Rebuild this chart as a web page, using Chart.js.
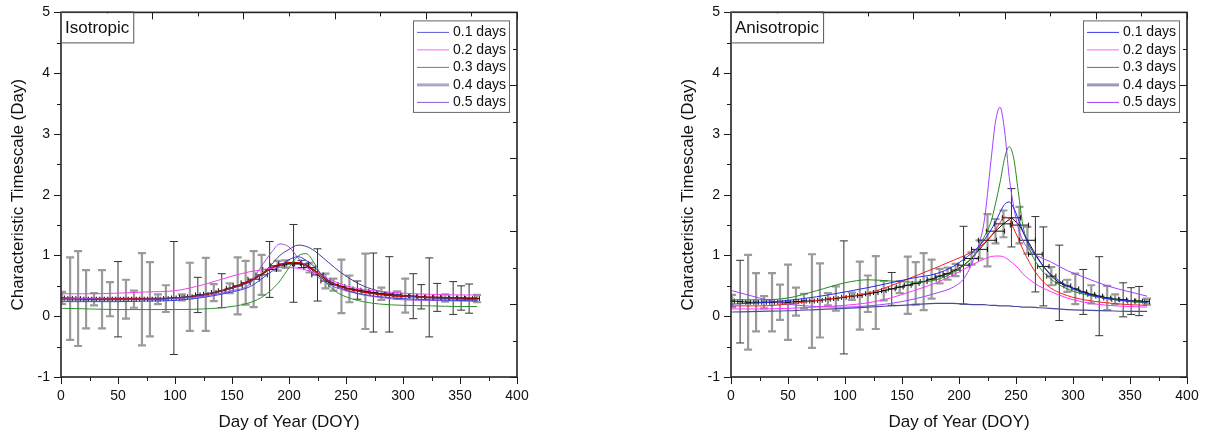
<!DOCTYPE html>
<html>
<head>
<meta charset="utf-8">
<script src="https://cdn.jsdelivr.net/npm/chart.js@4.4.1/dist/chart.umd.min.js"></script>
<style>
  html, body { margin: 0; padding: 0; background: #fff; }
  body { width: 1209px; height: 437px; position: relative; overflow: hidden; }
  .panel { position: absolute; top: 0; height: 437px; }
  #iso-wrap { left: 0; width: 540px; }
  #aniso-wrap { left: 670px; width: 539px; }
</style>
</head>
<body>
<div class="panel" id="iso-wrap"><canvas id="iso-chart" width="540" height="437"></canvas></div>
<div class="panel" id="aniso-wrap"><canvas id="aniso-chart" width="539" height="437"></canvas></div>
<script>
// weekly observations (day of year)
const weekDoy = [1, 8, 15, 22, 29, 36, 43, 50, 57, 64, 71, 78, 85, 92, 99, 106, 113, 120, 127, 134,
    141, 148, 155, 162, 169, 176, 183, 190, 197, 204, 211, 218, 225, 232, 239, 246, 253, 260, 267, 274,
    281, 288, 295, 302, 309, 316, 323, 330, 337, 344, 351, 358, 365];

const seriesLabels = ['0.1 days', '0.2 days', '0.3 days', '0.4 days', '0.5 days'];

// Isotropic panel
const isoMean = [0.30, 0.29, 0.29, 0.28, 0.28, 0.28, 0.28, 0.28, 0.28, 0.28, 0.28, 0.28, 0.28, 0.29, 0.30, 0.31, 0.32, 0.35, 0.36, 0.39,
    0.42, 0.46, 0.50, 0.55, 0.61, 0.68, 0.77, 0.83, 0.86, 0.87, 0.86, 0.80, 0.68, 0.58, 0.52, 0.49, 0.45, 0.43, 0.41, 0.39,
    0.37, 0.36, 0.35, 0.34, 0.33, 0.32, 0.31, 0.31, 0.30, 0.30, 0.30, 0.29, 0.29];
const isoErr = [0.10, 0.68, 0.78, 0.48, 0.10, 0.48, 0.28, 0.62, 0.32, 0.14, 0.76, 0.61, 0.08, 0.22, 0.93, 0.05, 0.56, 0.29, 0.60, 0.14,
    0.28, 0.08, 0.47, 0.36, 0.46, 0.33, 0.46, 0.08, 0.06, 0.64, 0.06, 0.08, 0.43, 0.12, 0.10, 0.44, 0.22, 0.15, 0.62, 0.65,
    0.10, 0.62, 0.06, 0.28, 0.37, 0.20, 0.65, 0.23, 0.06, 0.27, 0.20, 0.24, 0.06];
const isoXErr = [2, 2, 2, 2, 2, 2, 2, 2, 2, 2, 2, 2, 2, 2, 2, 2, 2, 2, 2, 2,
    3, 3, 4, 4, 5, 5, 6, 6, 6, 6, 6, 5, 5, 4, 4, 3, 3, 3, 3, 3,
    3, 3, 3, 3, 3, 3, 3, 3, 3, 3, 3, 3, 2];
const isoSetBDoy = [50, 99, 120, 141, 183, 204, 211, 225, 260, 274, 288, 309, 316, 323, 330, 344, 351, 358];

const isoCurveDoy = [1, 25, 50, 75, 100, 125, 150, 165, 175, 185, 192, 200, 208, 215, 222, 230, 240, 250, 265, 280, 300, 325, 350, 365];
const iso01 = [0.24, 0.24, 0.24, 0.25, 0.26, 0.31, 0.40, 0.48, 0.60, 0.74, 0.83, 0.93, 0.98, 0.92, 0.82, 0.66, 0.52, 0.43, 0.36, 0.32, 0.29, 0.27, 0.26, 0.25];
const iso02 = [0.37, 0.37, 0.38, 0.40, 0.42, 0.52, 0.66, 0.73, 0.76, 0.79, 0.80, 0.80, 0.79, 0.76, 0.72, 0.66, 0.57, 0.50, 0.44, 0.41, 0.38, 0.36, 0.35, 0.35];
const iso03 = [0.13, 0.12, 0.11, 0.11, 0.11, 0.12, 0.16, 0.22, 0.30, 0.44, 0.58, 0.80, 0.99, 1.03, 0.88, 0.62, 0.42, 0.32, 0.24, 0.20, 0.18, 0.17, 0.16, 0.16];
const iso04 = [0.27, 0.27, 0.27, 0.28, 0.30, 0.36, 0.46, 0.56, 0.68, 0.86, 1.00, 1.10, 1.17, 1.15, 1.08, 0.96, 0.80, 0.66, 0.50, 0.41, 0.34, 0.30, 0.28, 0.27];
const iso05 = [0.30, 0.29, 0.28, 0.28, 0.29, 0.33, 0.42, 0.52, 0.80, 1.06, 1.19, 1.14, 0.96, 0.82, 0.70, 0.58, 0.48, 0.42, 0.35, 0.31, 0.27, 0.26, 0.25, 0.25];
const isoFit = [0.30, 0.29, 0.29, 0.29, 0.30, 0.35, 0.47, 0.58, 0.68, 0.80, 0.85, 0.88, 0.88, 0.84, 0.76, 0.64, 0.53, 0.46, 0.40, 0.36, 0.33, 0.31, 0.30, 0.30];

// Anisotropic panel
const anisoMean = [0.25, 0.24, 0.23, 0.23, 0.23, 0.23, 0.23, 0.23, 0.24, 0.25, 0.25, 0.26, 0.28, 0.29, 0.31, 0.33, 0.34, 0.37, 0.39, 0.42,
    0.45, 0.48, 0.51, 0.54, 0.57, 0.61, 0.66, 0.70, 0.76, 0.84, 0.95, 1.10, 1.25, 1.40, 1.52, 1.62, 1.50, 1.25, 1.02, 0.82,
    0.66, 0.55, 0.50, 0.45, 0.40, 0.36, 0.33, 0.30, 0.28, 0.27, 0.25, 0.25, 0.24];
const anisoErr = [0.10, 0.68, 0.78, 0.48, 0.10, 0.48, 0.29, 0.62, 0.23, 0.12, 0.77, 0.61, 0.10, 0.20, 0.93, 0.06, 0.56, 0.30, 0.60, 0.16,
    0.27, 0.10, 0.47, 0.35, 0.47, 0.32, 0.12, 0.10, 0.10, 0.64, 0.10, 0.15, 0.43, 0.20, 0.22, 0.48, 0.30, 0.22, 0.62, 0.65,
    0.15, 0.62, 0.10, 0.25, 0.37, 0.15, 0.65, 0.20, 0.08, 0.28, 0.22, 0.24, 0.05];
const anisoXErr = [2, 2, 2, 2, 2, 2, 2, 2, 2, 2, 2, 2, 2, 2, 2, 2, 2, 2, 2, 2,
    3, 3, 3, 3, 3, 4, 4, 4, 4, 5, 6, 7, 8, 8, 8, 8, 8, 7, 6, 5,
    4, 3, 3, 3, 3, 3, 3, 3, 3, 3, 3, 3, 2];
const anisoSetBDoy = [8, 99, 141, 204, 246, 267, 274, 288, 309, 323, 344, 351, 358];

const anisoCurveDoy = [1, 25, 50, 75, 100, 120, 140, 160, 180, 195, 205, 215, 222, 228, 232, 236, 240, 244, 248, 252, 256, 262, 270, 280, 295, 310, 330, 350, 365];
const aniso01 = [0.20, 0.22, 0.26, 0.32, 0.40, 0.47, 0.55, 0.63, 0.70, 0.82, 0.95, 1.10, 1.25, 1.42, 1.55, 1.71, 1.84, 1.88, 1.78, 1.60, 1.40, 1.15, 0.92, 0.70, 0.50, 0.38, 0.29, 0.25, 0.23];
const aniso02 = [0.12, 0.12, 0.13, 0.15, 0.18, 0.22, 0.30, 0.42, 0.55, 0.68, 0.78, 0.88, 0.94, 0.98, 0.99, 0.99, 0.97, 0.92, 0.86, 0.79, 0.70, 0.60, 0.50, 0.41, 0.30, 0.23, 0.18, 0.16, 0.15];
const aniso03 = [0.27, 0.27, 0.30, 0.42, 0.55, 0.60, 0.58, 0.56, 0.60, 0.72, 0.85, 1.05, 1.30, 1.55, 1.85, 2.20, 2.60, 2.79, 2.60, 2.05, 1.50, 1.10, 0.82, 0.62, 0.45, 0.36, 0.29, 0.24, 0.22];
const aniso04 = [0.07, 0.08, 0.09, 0.11, 0.13, 0.15, 0.17, 0.19, 0.21, 0.21, 0.20, 0.19, 0.19, 0.18, 0.18, 0.17, 0.17, 0.17, 0.16, 0.16, 0.15, 0.15, 0.14, 0.13, 0.11, 0.10, 0.09, 0.08, 0.08];
const aniso05 = [0.42, 0.30, 0.20, 0.16, 0.15, 0.17, 0.21, 0.28, 0.38, 0.48, 0.64, 1.05, 1.55, 2.55, 3.20, 3.44, 3.05, 2.30, 1.80, 1.45, 1.25, 1.08, 0.98, 0.90, 0.75, 0.64, 0.50, 0.40, 0.33];
const anisoFit = [0.17, 0.17, 0.20, 0.26, 0.32, 0.38, 0.50, 0.65, 0.80, 0.92, 1.00, 1.10, 1.20, 1.32, 1.42, 1.54, 1.63, 1.60, 1.44, 1.28, 1.10, 0.88, 0.65, 0.47, 0.34, 0.27, 0.22, 0.19, 0.18];

const FONT = '"Liberation Sans", Arial, sans-serif';
Chart.defaults.font.family = FONT;
Chart.defaults.color = '#111';

function toPoints(xs, ys) {
    return xs.map((x, i) => ({ x: x, y: ys[i] }));
}

// frame with inward/outward ticks like the original plot
const frameTicks = {
    id: 'frameTicks',
    afterDraw(chart) {
        const { ctx, chartArea: a, scales } = chart;
        const x = scales.x, y = scales.y;
        ctx.save();
        ctx.strokeStyle = '#1a1a1a';
        ctx.lineWidth = 1;
        const line = (x1, y1, x2, y2) => {
            ctx.beginPath();
            ctx.moveTo(x1, y1);
            ctx.lineTo(x2, y2);
            ctx.stroke();
        };
        for (let k = 0; k <= 12; k++) {
            const py = Math.round(y.getPixelForValue(-1 + k * 0.5)) + 0.5;
            line(a.left - (k % 2 === 0 ? 7 : 4), py, a.left, py);
        }
        for (let k = 0; k <= 16; k++) {
            const px = Math.round(x.getPixelForValue(k * 25)) + 0.5;
            line(px, a.bottom, px, a.bottom + (k % 2 === 0 ? 7 : 4));
        }
        for (let k = 0; k <= 10; k++) {
            const px = Math.round(x.getPixelForValue(k * 40)) + 0.5;
            line(px, a.top, px, a.top + (k % 2 === 0 ? 7 : 4));
        }
        for (let k = 0; k <= 10; k++) {
            const py = Math.round(y.getPixelForValue(-1 + k * 0.6)) + 0.5;
            line(a.right, py, a.right - (k % 2 === 0 ? 7 : 4), py);
        }
        ctx.lineWidth = 1.6;
        ctx.strokeStyle = '#222';
        ctx.strokeRect(a.left, a.top, a.right - a.left, a.bottom - a.top);
        ctx.restore();
    }
};

const errorBars = {
    id: 'errorBars',
    beforeDatasetsDraw(chart) {
        const { ctx, chartArea: a, scales } = chart;
        const x = scales.x, y = scales.y;
        ctx.save();
        ctx.beginPath();
        ctx.rect(a.left, a.top, a.right - a.left, a.bottom - a.top);
        ctx.clip();
        chart.data.datasets.forEach(ds => {
            if (!ds.errY) return;
            const passes = [
                { dark: false, color: '#9a9a9a', width: 2.2 },
                { dark: true, color: '#333', width: 1 }
            ];
            passes.forEach(p => {
                ctx.strokeStyle = p.color;
                ctx.lineWidth = p.width;
                ds.data.forEach((pt, i) => {
                    const isDark = ds.setB.includes(pt.x);
                    if (isDark !== p.dark) return;
                    const px = x.getPixelForValue(pt.x);
                    const top = y.getPixelForValue(pt.y + ds.errY[i]);
                    const bot = y.getPixelForValue(pt.y - ds.errY[i]);
                    ctx.beginPath();
                    ctx.moveTo(px, top); ctx.lineTo(px, bot);
                    ctx.moveTo(px - 4, top); ctx.lineTo(px + 4, top);
                    ctx.moveTo(px - 4, bot); ctx.lineTo(px + 4, bot);
                    ctx.stroke();
                });
            });
            ctx.strokeStyle = '#111';
            ctx.lineWidth = 1;
            ds.data.forEach((pt, i) => {
                const py = y.getPixelForValue(pt.y);
                const l = x.getPixelForValue(pt.x - ds.errX[i]);
                const r = x.getPixelForValue(pt.x + ds.errX[i]);
                ctx.beginPath();
                ctx.moveTo(l, py); ctx.lineTo(r, py);
                ctx.moveTo(l, py - 2.5); ctx.lineTo(l, py + 2.5);
                ctx.moveTo(r, py - 2.5); ctx.lineTo(r, py + 2.5);
                ctx.stroke();
            });
        });
        ctx.restore();
    }
};

const boxLegend = {
    id: 'boxLegend',
    afterDraw(chart) {
        const items = chart.data.datasets.filter(d => d.inLegend);
        const { ctx, chartArea: a } = chart;
        const w = 96, rowH = 17.5, h = items.length * rowH + 4;
        const x0 = a.right - 8 - w, y0 = a.top + 8;
        ctx.save();
        ctx.fillStyle = '#fff';
        ctx.fillRect(x0, y0, w, h);
        ctx.strokeStyle = '#666';
        ctx.lineWidth = 1;
        ctx.strokeRect(x0 + 0.5, y0 + 0.5, w, h);
        ctx.font = '14px ' + FONT;
        ctx.textBaseline = 'middle';
        items.forEach((d, i) => {
            const cy = y0 + 12 + i * rowH;
            ctx.strokeStyle = d.legendColor || d.borderColor;
            ctx.lineWidth = d.legendWidth || 1;
            ctx.beginPath();
            ctx.moveTo(x0 + 4, cy);
            ctx.lineTo(x0 + 36, cy);
            ctx.stroke();
            ctx.fillStyle = '#111';
            ctx.fillText(d.label, x0 + 40, cy);
        });
        ctx.restore();
    }
};

const panelLabel = {
    id: 'panelLabel',
    afterDraw(chart, args, opts) {
        const { ctx, chartArea: a } = chart;
        ctx.save();
        ctx.font = '17px ' + FONT;
        const tw = ctx.measureText(opts.text).width;
        ctx.fillStyle = '#fff';
        ctx.fillRect(a.left + 1, a.top + 1, tw + 7, 29);
        ctx.strokeStyle = '#555';
        ctx.lineWidth = 1;
        ctx.strokeRect(a.left + 0.5, a.top - 0.5, tw + 8, 31);
        ctx.fillStyle = '#111';
        ctx.textBaseline = 'middle';
        ctx.fillText(opts.text, a.left + 4, a.top + 16);
        ctx.restore();
    }
};

function makeChart(canvasId, cfg) {
    const datasets = [];
    cfg.curves.forEach(c => {
        datasets.push({
            label: c.label,
            data: toPoints(cfg.curveDoy, c.values),
            borderColor: c.color,
            borderWidth: c.width,
            legendColor: c.legendColor,
            legendWidth: c.legendWidth,
            inLegend: c.inLegend,
            showLine: true,
            pointRadius: 0,
            cubicInterpolationMode: 'monotone'
        });
    });
    datasets.push({
        label: 'observed',
        data: toPoints(weekDoy, cfg.mean),
        errY: cfg.err,
        errX: cfg.xerr,
        setB: cfg.setB,
        borderColor: '#111',
        borderWidth: 1,
        showLine: true,
        pointRadius: 0,
        tension: 0
    });

    return new Chart(document.getElementById(canvasId), {
        type: 'scatter',
        data: { datasets: datasets },
        options: {
            responsive: false,
            animation: false,
            events: [],
            layout: { padding: { left: 8, right: cfg.padRight, top: 8, bottom: 0 } },
            plugins: {
                legend: { display: false },
                tooltip: { enabled: false },
                panelLabel: { text: cfg.title }
            },
            scales: {
                x: {
                    type: 'linear',
                    min: 0, max: 400,
                    afterFit: s => { s.height = 60; },
                    border: { display: false },
                    grid: { drawOnChartArea: false, tickLength: 7, tickColor: 'rgba(0,0,0,0)' },
                    ticks: { stepSize: 50, padding: 4, font: { size: 14 }, color: '#111', maxRotation: 0 },
                    title: { display: true, text: 'Day of Year (DOY)', font: { size: 17 }, color: '#111', padding: { top: 0, bottom: 4 } }
                },
                y: {
                    type: 'linear',
                    min: -1, max: 5,
                    afterFit: s => { s.width = 53; },
                    border: { display: false },
                    grid: { drawOnChartArea: false, tickLength: 7, tickColor: 'rgba(0,0,0,0)' },
                    ticks: { stepSize: 1, padding: 4, font: { size: 14 }, color: '#111' },
                    title: { display: true, text: 'Characteristic Timescale (Day)', font: { size: 17 }, color: '#111', padding: { top: 0, bottom: 0 } }
                }
            }
        },
        plugins: [errorBars, frameTicks, boxLegend, panelLabel]
    });
}

makeChart('iso-chart', {
    title: 'Isotropic',
    padRight: 23,
    curveDoy: isoCurveDoy,
    mean: isoMean, err: isoErr, xerr: isoXErr, setB: isoSetBDoy,
    curves: [
        { label: seriesLabels[0], values: iso01, color: '#4040d8', width: 1, inLegend: true, legendColor: '#5a5ad8' },
        { label: seriesLabels[1], values: iso02, color: '#f040f0', width: 1, inLegend: true, legendColor: '#ff66ff' },
        { label: seriesLabels[2], values: iso03, color: '#2f8f2f', width: 1, inLegend: true, legendColor: '#44a044' },
        { label: seriesLabels[3], values: iso04, color: '#404090', width: 1, inLegend: true, legendColor: '#a8a8cc', legendWidth: 3 },
        { label: seriesLabels[4], values: iso05, color: '#9850e0', width: 1, inLegend: true, legendColor: '#8a5ad0' },
        { label: 'fit', values: isoFit, color: '#c00000', width: 1.6, inLegend: false }
    ]
});

makeChart('aniso-chart', {
    title: 'Anisotropic',
    padRight: 22,
    curveDoy: anisoCurveDoy,
    mean: anisoMean, err: anisoErr, xerr: anisoXErr, setB: anisoSetBDoy,
    curves: [
        { label: seriesLabels[0], values: aniso01, color: '#2828f0', width: 1, inLegend: true, legendColor: '#3a3ae8' },
        { label: seriesLabels[1], values: aniso02, color: '#ff30ff', width: 1, inLegend: true, legendColor: '#ff66ff' },
        { label: seriesLabels[2], values: aniso03, color: '#228b22', width: 1, inLegend: true, legendColor: '#339933' },
        { label: seriesLabels[3], values: aniso04, color: '#4a4a9a', width: 1.2, inLegend: true, legendColor: '#9a9ac0', legendWidth: 3 },
        { label: seriesLabels[4], values: aniso05, color: '#a040ff', width: 1, inLegend: true, legendColor: '#a040ff' },
        { label: 'fit', values: anisoFit, color: '#f02020', width: 1, inLegend: false }
    ]
});
</script>
</body>
</html>
